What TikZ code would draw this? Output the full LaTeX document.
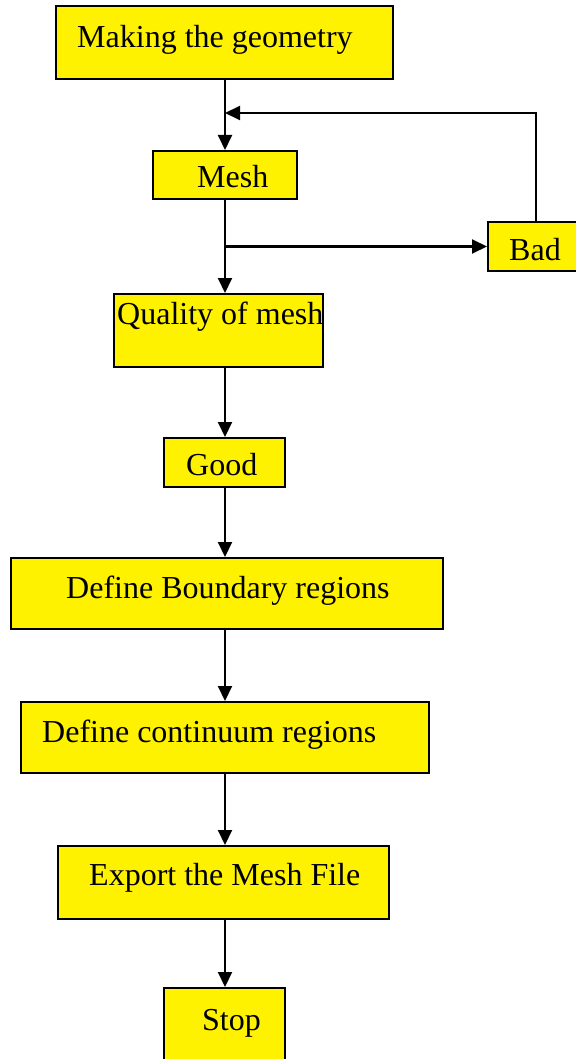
\documentclass[tikz,border=0pt]{standalone}
\usepackage{fontspec}
\setmainfont{Liberation Serif}
\usetikzlibrary{arrows.meta}
\begin{document}
\begin{tikzpicture}[x=1pt,y=-1pt,
  box/.style={draw=black,line width=2pt,fill=yellow,inner sep=0pt},
  lbl/.style={anchor=base west,inner sep=0pt,font=\fontsize{32}{38}\selectfont},
  arr/.style={line width=2pt,-{Triangle[length=15pt,width=14pt]}},
  ln/.style={line width=2pt}]
\useasboundingbox (0,0) rectangle (575,1059);
% boxes
\node[box,minimum width=337pt,minimum height=73pt] (geo) at (224.5,42.5) {};
\node[lbl] (geot) at (77,48) {Making the geometry};
\node[box,minimum width=144pt,minimum height=48pt] (mesh) at (225,175) {};
\node[lbl] (mesht) at (197,188) {Mesh};
\node[box,minimum width=89pt,minimum height=49pt] (bad) at (532.5,246.5) {};
\node[lbl] (badt) at (509,261) {Bad};
\node[box,minimum width=209pt,minimum height=73pt] (qual) at (218.5,330.5) {};
\node[lbl] (qualt) at (117,324) {Quality of mesh};
\node[box,minimum width=121pt,minimum height=49pt] (good) at (224.5,462.5) {};
\node[lbl] (goodt) at (186,475) {Good};
\node[box,minimum width=432pt,minimum height=71pt] (bnd) at (227,593.5) {};
\node[lbl] (bndt) at (66,598) {Define Boundary regions};
\node[box,minimum width=408pt,minimum height=71pt] (cont) at (225,737.5) {};
\node[lbl] (contt) at (42,742) {Define continuum regions};
\node[box,minimum width=331pt,minimum height=73pt] (exp) at (223.5,882.5) {};
\node[lbl] (expt) at (89,885) {Export the Mesh File};
\node[box,minimum width=121pt,minimum height=74pt] (stop) at (224.5,1025) {};
\node[lbl] (stopt) at (202,1030) {Stop};
% connectors
\coordinate (br) at (225,246.5);
\coordinate (fb) at (536,113);
\draw[arr] (mesh.north |- geo.south) -- (mesh.north);
\draw[ln] (mesh.south) -- (br);
\draw[arr] (br) -- (mesh.south |- qual.north);
\draw[arr] (br) -- (bad.west);
\draw[arr] (bad.north -| fb) -- (fb) -- (mesh.north |- fb);
\draw[arr] (mesh.south |- qual.south) -- (mesh.south |- good.north);
\draw[arr] (mesh.south |- good.south) -- (mesh.south |- bnd.north);
\draw[arr] (mesh.south |- bnd.south) -- (mesh.south |- cont.north);
\draw[arr] (mesh.south |- cont.south) -- (mesh.south |- exp.north);
\draw[arr] (mesh.south |- exp.south) -- (mesh.south |- stop.north);
\end{tikzpicture}
\end{document}
